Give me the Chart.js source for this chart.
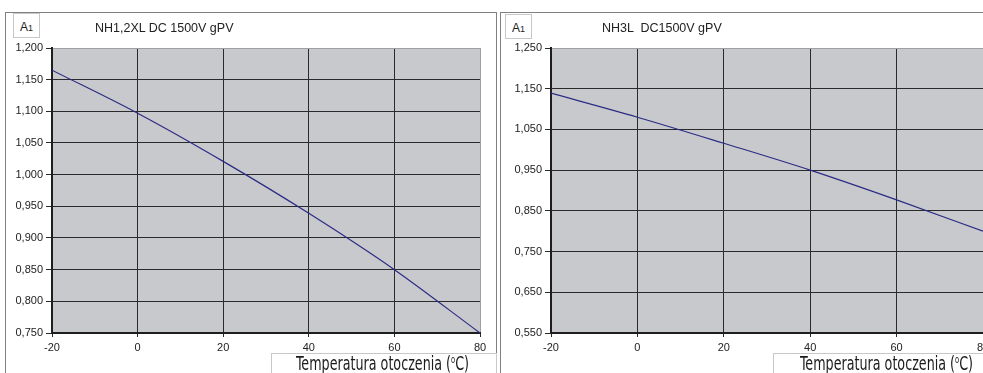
<!DOCTYPE html>
<html>
<head>
<meta charset="utf-8">
<script src="https://cdn.jsdelivr.net/npm/chart.js@4/dist/chart.umd.min.js"></script>
<style>
  html, body { margin: 0; padding: 0; background: #fff; }
  body { width: 983px; height: 373px; overflow: hidden; position: relative; font-family: "Liberation Sans", Arial, sans-serif; }
  .panel { position: absolute; border: 1px solid #808080; background: #fff; }
  canvas { position: absolute; top: 0; }
  .tag { position: absolute; border: 1px solid #c8c8c8; background: #fff; width: 27px; height: 25px;
         font-size: 12px; color: #222; line-height: 27px; text-align: center; box-sizing: border-box; }
  .tag span { font-size: 9px; }
  .ttl { position: absolute; font-size: 12.5px; color: #222; white-space: pre; }
  .xbox { position: absolute; top: 353px; height: 40px; background: #fff; border: 1px solid #c8c8c8; box-sizing: border-box; }
  .xlab { position: absolute; top: 351px; font-family: "DejaVu Sans Condensed", "Liberation Sans Narrow", "Liberation Sans", sans-serif;
          font-size: 19px; color: #1a1a1a; white-space: nowrap; transform-origin: 0 0; line-height: 24px; }
  .xlab sup { font-size: 10px; vertical-align: 7px; line-height: 0; }
</style>
</head>
<body>
<div class="panel" style="left:5px; top:12px; width:490px; height:400px;"></div>
<div class="panel" style="left:500px; top:12px; width:520px; height:400px;"></div>

<canvas id="left" width="497" height="373" style="left:0px;"></canvas>
<canvas id="right" width="510" height="373" style="left:499px;"></canvas>

<div class="tag" style="left:13px; top:13px;">A<span>1</span></div>
<div class="ttl" style="left:95px; top:21px;">NH1,2XL DC 1500V gPV</div>
<div class="xbox" style="left:271px; width:226px;"></div>
<div class="xlab" id="xl1" style="left:296px;">Temperatura otoczenia (<sup>o</sup>C)</div>

<div class="tag" style="left:505px; top:14px;">A<span>1</span></div>
<div class="ttl" style="left:602px; top:21px;">NH3L  DC1500V gPV</div>
<div class="xbox" style="left:773px; width:240px;"></div>
<div class="xlab" id="xl2" style="left:800px;">Temperatura otoczenia (<sup>o</sup>C)</div>

<script>
// Ambient temperature (°C) and derating factor A1 for the two fuse types
const temps = [-20, 0, 20, 40, 60, 80];
const nh12xl = [1.165, 1.097, 1.021, 0.939, 0.850, 0.750];
const nh3l   = [1.139, 1.080, 1.016, 0.950, 0.877, 0.800];

// Axis ticks
const xTicks = [-20, 0, 20, 40, 60, 80];
const yTicksLeft = [0.75, 0.80, 0.85, 0.90, 0.95, 1.00, 1.05, 1.10, 1.15, 1.20];
const yTicksRight = [0.55, 0.65, 0.75, 0.85, 0.95, 1.05, 1.15, 1.25];

const tickFont = { family: "'Liberation Sans', Arial, sans-serif", size: 11 };
const gridDark = '#2a2a2a';
const gridEdge = '#a0a0a0';

const plotBg = {
  id: 'plotBg',
  beforeDraw(chart) {
    const a = chart.chartArea, c = chart.ctx;
    c.save();
    c.fillStyle = '#c8c9cc';
    c.fillRect(a.left, a.top, a.right - a.left, a.bottom - a.top);
    c.restore();
  }
};

function makeChart(id, values, yTicks, padRight) {
  const yMin = yTicks[0], yMax = yTicks[yTicks.length - 1];
  return new Chart(document.getElementById(id), {
    type: 'line',
    data: {
      datasets: [{
        data: temps.map((t, i) => ({ x: t, y: values[i] })),
        borderColor: '#2b2b85',
        borderWidth: 1.2,
        pointRadius: 0,
        cubicInterpolationMode: 'monotone',
        fill: false
      }]
    },
    options: {
      responsive: false,
      animation: false,
      devicePixelRatio: 1,
      layout: { padding: { left: 0, top: 48, right: padRight, bottom: 0 } },
      plugins: { legend: { display: false }, tooltip: { enabled: false }, title: { display: false } },
      scales: {
        x: {
          type: 'linear', min: -20, max: 80,
          afterBuildTicks: s => { s.ticks = xTicks.map(v => ({ value: v })); },
          afterFit: s => { s.height = 40; },
          grid: {
            color: ctx => (ctx.tick && ctx.tick.value === 80) ? gridEdge : gridDark,
            lineWidth: 1, tickLength: 4, tickColor: gridDark
          },
          border: { color: '#1e1e1e', width: 2 },
          ticks: { font: tickFont, color: '#222', padding: 4, maxRotation: 0, autoSkip: false,
                   callback: v => String(v) }
        },
        y: {
          type: 'linear', min: yMin, max: yMax,
          afterBuildTicks: s => { s.ticks = yTicks.map(v => ({ value: v })); },
          afterFit: s => { s.width = 52; },
          grid: {
            color: ctx => (ctx.tick && Math.abs(ctx.tick.value - yMax) < 1e-9) ? gridEdge : gridDark,
            lineWidth: 1, tickLength: 6, tickColor: gridDark
          },
          border: { color: '#1e1e1e', width: 2 },
          ticks: { font: tickFont, color: '#222', padding: 3, autoSkip: false,
                   callback: v => Number(v).toFixed(3).replace('.', ',') }
        }
      }
    },
    plugins: [plotBg]
  });
}

makeChart('left', nh12xl, yTicksLeft, 17);
makeChart('right', nh3l, yTicksRight, 26);

// Narrow the axis captions to their condensed width
['xl1', 'xl2'].forEach(id => {
  const el = document.getElementById(id);
  const w = el.getBoundingClientRect().width;
  el.style.transform = 'scaleX(' + (173 / w) + ')';
});
</script>
</body>
</html>
